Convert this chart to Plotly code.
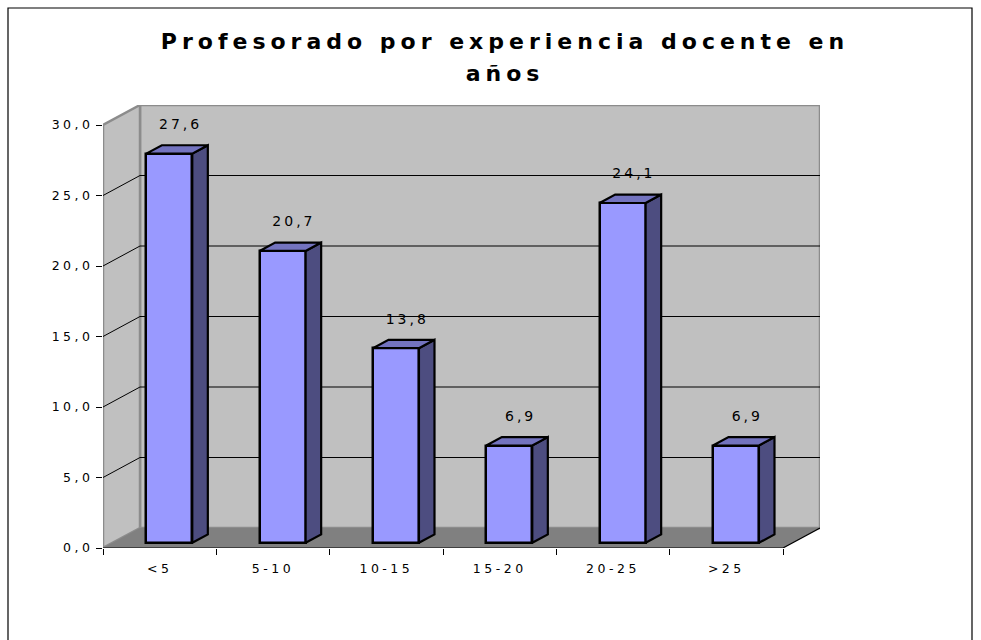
import plotly.graph_objects as go

# ---------------- data ----------------
categories = ["<5", "5-10", "10-15", "15-20", "20-25", ">25"]
values = [27.6, 20.7, 13.8, 6.9, 24.1, 6.9]
y_ticks = [0, 5, 10, 15, 20, 25, 30]
title_text = "Profesorado por experiencia docente en<br>años"

# ---------------- geometry (pixels of the 981x640 page) ----------------
W, H = 981, 640
FRONT_LEFT, FRONT_RIGHT = 103, 783      # front edge of floor / x axis
FRONT_ZERO, FRONT_TOP = 548, 125        # y pixel of 0 and of 30 on front axis
DEPTH_PX_X, DEPTH_PX_Y = 37, 20         # 3-D depth offset of the back wall

n = len(categories)
y_max = y_ticks[-1]
px_x = (FRONT_RIGHT - FRONT_LEFT) / n
px_y = (FRONT_ZERO - FRONT_TOP) / y_max
DX = DEPTH_PX_X / px_x
DY = DEPTH_PX_Y / px_y
x_lo, x_hi = -0.5, n - 0.5
x_range = [x_lo, x_hi + DX]
y_range = [0, y_max + DY]

plot_w = (x_range[1] - x_range[0]) * px_x
plot_h = (y_range[1] - y_range[0]) * px_y
m_l = FRONT_LEFT
m_r = W - FRONT_LEFT - plot_w
m_b = H - FRONT_ZERO
m_t = H - m_b - plot_h

# bar geometry in axis units
F = 0.26                # depth position of bar front
D = 0.42                # bar depth as fraction of the floor depth
bar_w = 46 / px_x
base = F * DY
bx = [i + F * DX for i in range(n)]
ddx, ddy = D * DX, D * DY

FONT = "DejaVu Sans, Verdana, sans-serif"
WALL = "#C0C0C0"
WALL_EDGE = "#8C8C8C"
FLOOR = "#808080"
FRONT = "#9999FF"
SIDE = "#4D4D80"
TOP = "#7373BF"

fig = go.Figure()

# bar fronts
fig.add_trace(go.Bar(
    x=bx, y=values, base=base, width=bar_w,
    marker=dict(color=FRONT, line=dict(color="black", width=2.5)),
    hoverinfo="skip", showlegend=False,
))

# bar sides and tops
for xc, v in zip(bx, values):
    xl, xr = xc - bar_w / 2, xc + bar_w / 2
    yb, yt = base, base + v
    fig.add_trace(go.Scatter(
        x=[xr, xr, xr + ddx, xr + ddx, xr], y=[yb, yt, yt + ddy, yb + ddy, yb],
        mode="lines", fill="toself", fillcolor=SIDE,
        line=dict(color="black", width=2.2), hoverinfo="skip", showlegend=False))
    fig.add_trace(go.Scatter(
        x=[xl, xr, xr + ddx, xl + ddx, xl], y=[yt, yt, yt + ddy, yt + ddy, yt],
        mode="lines", fill="toself", fillcolor=TOP,
        line=dict(color="black", width=2.2), hoverinfo="skip", showlegend=False))

# value labels
fig.add_trace(go.Scatter(
    x=[xc + 0.1 for xc in bx], y=[v + base + 2.0 for v in values],
    mode="text", text=[f"{v:.1f}".replace(".", ",") for v in values],
    textposition="middle center",
    textfont=dict(family=FONT, size=14, color="black"),
    hoverinfo="skip", showlegend=False))

# walls, floor, gridlines, axis line (decoration, computed from axis ranges)
shapes = []
shapes.append(dict(type="rect", xref="x", yref="y", layer="below",
                   x0=x_lo + DX, x1=x_hi + DX, y0=DY, y1=y_max + DY,
                   fillcolor=WALL, line=dict(color=WALL_EDGE, width=2.5)))
shapes.append(dict(type="path", xref="x", yref="y", layer="below",
                   path=f"M {x_lo},0 L {x_lo},{y_max} L {x_lo + DX},{y_max + DY} L {x_lo + DX},{DY} Z",
                   fillcolor=WALL, line=dict(color=WALL_EDGE, width=2.5)))
shapes.append(dict(type="path", xref="x", yref="y", layer="below",
                   path=f"M {x_lo},0 L {x_hi},0 L {x_hi + DX},{DY} L {x_lo + DX},{DY} Z",
                   fillcolor=FLOOR, line=dict(width=0)))
for t in y_ticks[1:-1]:
    shapes.append(dict(type="line", xref="x", yref="y", layer="below",
                       x0=x_lo + DX, x1=x_hi + DX, y0=t + DY, y1=t + DY,
                       line=dict(color="black", width=1)))
    shapes.append(dict(type="line", xref="x", yref="y", layer="below",
                       x0=x_lo, x1=x_lo + DX, y0=t, y1=t + DY,
                       line=dict(color="black", width=1)))
shapes.append(dict(type="path", xref="x", yref="y", layer="below",
                   path=f"M {x_lo},0 L {x_hi},0 L {x_hi + DX},{DY}",
                   line=dict(color="black", width=1.2)))
# outer frame
pw, ph = plot_w, plot_h
shapes.append(dict(type="rect", xref="paper", yref="paper", layer="above",
                   x0=(8 - m_l) / pw, x1=(972 - m_l) / pw,
                   y0=(H - 700 - m_b) / ph, y1=(H - 8 - m_b) / ph,
                   line=dict(color="black", width=1.2), fillcolor="rgba(0,0,0,0)"))

fig.update_layout(
    width=W, height=H,
    margin=dict(l=m_l, r=m_r, t=m_t, b=m_b, pad=0),
    paper_bgcolor="white", plot_bgcolor="rgba(0,0,0,0)",
    separators=",.",
    font=dict(family=FONT, size=13, color="black"),
    title=dict(text=title_text, x=505 / W, xref="container", xanchor="center",
               y=1 - 49 / H, yref="container", yanchor="top",
               font=dict(family=FONT, size=22, color="black", weight="bold")),
    shapes=shapes,
    showlegend=False,
    bargap=0,
)
fig.update_xaxes(
    range=x_range, showgrid=False, zeroline=False, showline=False,
    tickmode="array", tickvals=list(range(n)), ticktext=categories,
    ticks="", ticklabelstandoff=11,
    minor=dict(tickmode="array", tickvals=[x_lo + k for k in range(n + 1)],
               ticks="outside", ticklen=6, tickcolor="black", tickwidth=1),
    tickfont=dict(family=FONT, size=12.5, color="black"),
    fixedrange=True,
)
fig.update_yaxes(
    range=y_range, showgrid=False, zeroline=False, showline=False,
    tickmode="array", tickvals=y_ticks, tickformat=".1f",
    ticks="outside", ticklen=6, tickcolor="black", tickwidth=1,
    tickfont=dict(family=FONT, size=12.5, color="black"),
    fixedrange=True,
)

post = """
document.body.style.margin = '0';
var gd = document.getElementById('{plot_id}');
gd.querySelectorAll('text.gtitle').forEach(function(t){
  t.style.letterSpacing = '5px';
  var ls = t.querySelectorAll('tspan.line');
  if (ls.length > 1) { ls[1].setAttribute('dy', '1.45em'); }
});
gd.querySelectorAll('.xtick text, .ytick text').forEach(function(t){ t.style.letterSpacing = '3.5px'; });
gd.querySelectorAll('.textpoint text').forEach(function(t){ t.style.letterSpacing = '3px'; });
"""

fig.write_html("out.html", post_script=post, config={"displayModeBar": False})
